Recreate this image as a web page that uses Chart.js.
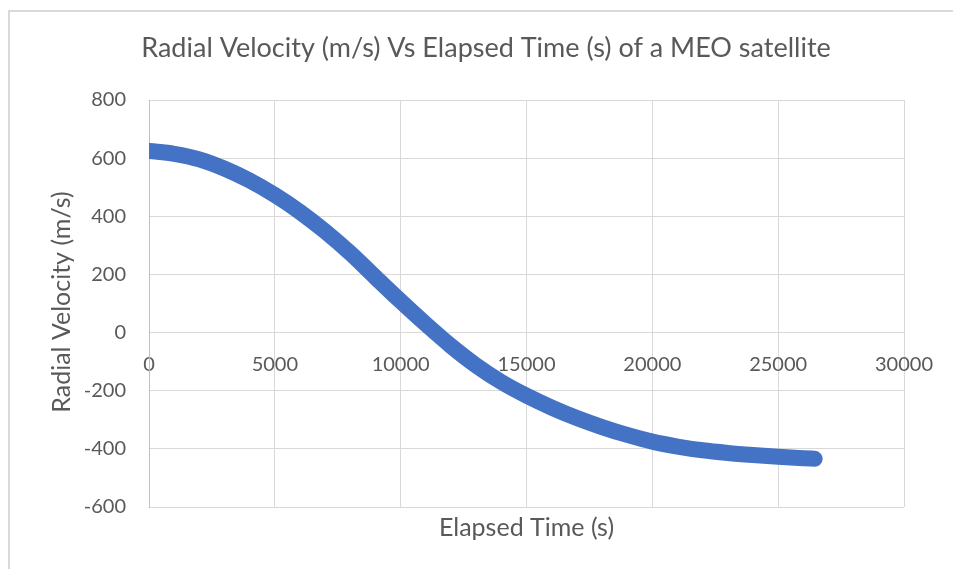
<!DOCTYPE html>
<html>
<head>
<meta charset="utf-8">
<script src="https://cdn.jsdelivr.net/npm/chart.js@4.4.1/dist/chart.umd.min.js"></script>
<style>
  html, body { margin: 0; padding: 0; background: #ffffff; }
  #frame { position: absolute; left: 8px; top: 10px; width: 1000px; height: 600px;
           border-top: 2px solid #d9d9d9; border-left: 2px solid #d9d9d9; }
  #wrap { position: absolute; left: 0; top: 0; width: 953px; height: 569px; }
</style>
</head>
<body>
<div id="frame"></div>
<div id="wrap"><canvas id="chart" width="953" height="569"></canvas></div>
<script>
// Elapsed time (s) and the satellite's radial velocity (m/s)
const elapsedTime = [0, 1000, 2000, 3000, 4000, 5000, 6000, 7000, 8000, 9000,
  10000, 11000, 12000, 13000, 14000, 15000, 16000, 17000, 18000, 19000,
  20000, 21000, 22000, 23000, 24000, 25000, 26000, 26450];
const radialVelocity = [625, 615, 596, 564, 523, 473, 415, 348, 273, 190,
  108, 29, -46, -113, -170, -217, -258, -294, -325, -352,
  -375, -392, -405, -414, -421, -427, -432, -434];

const xTickValues = [0, 5000, 10000, 15000, 20000, 25000, 30000];
const yTickValues = [-600, -400, -200, 0, 200, 400, 600, 800];

const chartTitle = 'Radial Velocity (m/s) Vs Elapsed Time (s) of a MEO satellite';
const xTitle = 'Elapsed Time (s)';
const yTitle = 'Radial Velocity (m/s)';

const FONT = 'Lato';
const TEXT = '#595959';
const GRID = '#d9d9d9';
const SERIES = '#4472c4';

const points = elapsedTime.map((t, i) => ({ x: t, y: radialVelocity[i] }));

// Chart title and axis titles drawn on the canvas
const textPlugin = {
  id: 'chartTexts',
  afterDraw(chart) {
    const { ctx, chartArea } = chart;
    ctx.save();
    ctx.fillStyle = TEXT;
    ctx.textAlign = 'center';
    ctx.textBaseline = 'middle';
    ctx.font = `27px ${FONT}`;
    ctx.fillText(chartTitle, 486, 48);
    ctx.font = `25px ${FONT}`;
    ctx.fillText(xTitle, (chartArea.left + chartArea.right) / 2, 528);
    ctx.translate(62, 302);
    ctx.rotate(-Math.PI / 2);
    ctx.fillText(yTitle, 0, 0);
    ctx.restore();
  }
};

function draw() {
  new Chart(document.getElementById('chart'), {
    type: 'scatter',
    data: {
      datasets: [{
        data: points,
        showLine: true,
        borderColor: SERIES,
        backgroundColor: SERIES,
        borderWidth: 16,
        borderCapStyle: 'round',
        borderJoinStyle: 'round',
        cubicInterpolationMode: 'monotone',
        pointRadius: 0,
        pointHoverRadius: 0
      }]
    },
    options: {
      responsive: false,
      animation: false,
      events: [],
      layout: { padding: { top: 100, right: 49, bottom: 62, left: 0 } },
      plugins: { legend: { display: false }, title: { display: false }, tooltip: { enabled: false } },
      scales: {
        x: {
          type: 'linear',
          position: { y: 0 },
          min: xTickValues[0],
          max: xTickValues[xTickValues.length - 1],
          afterBuildTicks(scale) { scale.ticks = xTickValues.map(v => ({ value: v })); },
          ticks: { color: TEXT, font: { family: FONT, size: 20 }, padding: 20, maxRotation: 0,
                   autoSkip: false, callback: v => String(v) },
          grid: { color: GRID, lineWidth: 1, drawTicks: false, tickLength: 0 },
          border: { color: GRID, width: 1 }
        },
        y: {
          type: 'linear',
          position: 'left',
          min: yTickValues[0],
          max: yTickValues[yTickValues.length - 1],
          afterBuildTicks(scale) { scale.ticks = yTickValues.map(v => ({ value: v })); },
          afterFit(scale) { scale.width = 149; },
          ticks: { color: TEXT, font: { family: FONT, size: 20 }, padding: 23,
                   callback: v => String(v) },
          grid: { color: GRID, lineWidth: 1, drawTicks: false, tickLength: 0 },
          border: { color: '#bfbfbf', width: 1 }
        }
      }
    },
    plugins: [textPlugin]
  });
}

if (document.fonts && document.fonts.load) {
  Promise.all([document.fonts.load(`20px ${FONT}`), document.fonts.load(`27px ${FONT}`)])
    .then(draw, draw);
} else {
  draw();
}
</script>
</body>
</html>
